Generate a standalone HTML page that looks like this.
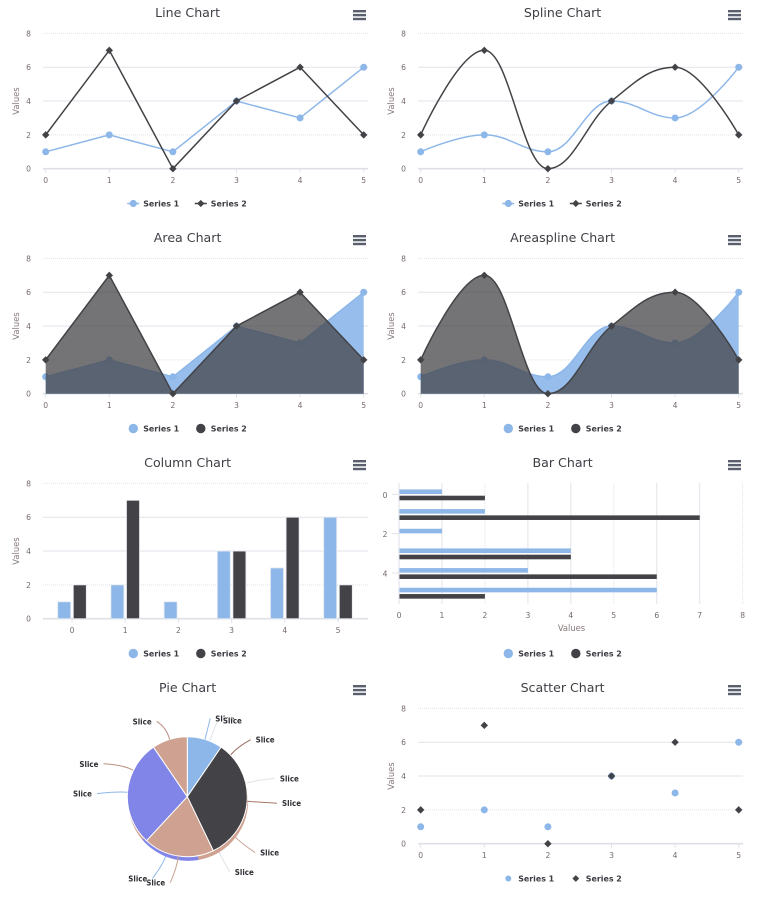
<!DOCTYPE html>
<html lang="en">
<head>
<meta charset="utf-8">
<title>Chart Gallery</title>
<style>
html,body{margin:0;padding:0;background:#fff;overflow:hidden;}
svg{display:block;font-family:"DejaVu Sans","Liberation Sans",sans-serif;filter:blur(0.3px);}
</style>
</head>
<body>
<svg id="stage" width="763" height="913" viewBox="0 0 763 913" xmlns="http://www.w3.org/2000/svg"></svg>
<script>
const categories = [0, 1, 2, 3, 4, 5];
const series1 = [1, 2, 1, 4, 3, 6];
const series2 = [2, 7, 0, 4, 6, 2];
const yTicks = [0, 2, 4, 6, 8];
const barValueTicks = [0, 1, 2, 3, 4, 5, 6, 7, 8];
const barCategoryTicks = [0, 2, 4];
const seriesNames = ['Series 1', 'Series 2'];
const pieValues = [1, 3.5, 2, 3, 1];
const pieGhostValues = [170, 60, 130];
const pieGhostLabelAngles = [22, 46, 77, 130, 150, 200, 296];

const BLUE = '#8db7e9', DARK = '#434347', TAN = '#cea191', PURPLE = '#8185e8';
const GRID = '#e1e3e9', TICK = '#75696c', TITLE = '#403e45';
const stage = document.getElementById('stage');

function mk(parent, tag, props) {
  const el = document.createElementNS('http://www.w3.org/2000/svg', tag);
  for (const k in props) el.setAttribute(k, props[k]);
  parent.appendChild(el);
  return el;
}
function label(parent, str, props) {
  const el = mk(parent, 'text', props);
  el.textContent = str;
  return el;
}

function frameFor(col, row) {
  const ox = col * 375, oy = row * 225;
  return {
    ox, oy,
    gridL: ox + 43, gridR: ox + 368,
    top: oy + 33.4, base: oy + 168.7,
    xL: ox + 45.7, xR: ox + 363.7,
    panelW: 375
  };
}
function yScale(f, v) { return f.base - (v / 8) * (f.base - f.top); }
function xScale(f, v) { return f.xL + (v / 5) * (f.xR - f.xL); }

function chrome(g, f, name) {
  const t = label(g, name, {x: f.ox + 187.6, y: f.oy + 17, 'text-anchor': 'middle', 'font-size': 12.6, fill: TITLE});
  
  
  const menu = mk(g, 'g', {});
  
  
  [0, 1, 2].forEach(function (i) {
    const bar = mk(menu, 'rect', {x: f.ox + 353, y: f.oy + 10 + i * 3.9, width: 13, height: 2.4, fill: '#5a5f6e'});
    
    
  });
}

function yAxis(g, f) {
  yTicks.forEach(function (v) {
    const y = yScale(f, v);
    const line = mk(g, 'line', {x1: f.gridL, x2: f.gridR, y1: y, y2: y, stroke: v === 0 ? '#dde0e6' : GRID, 'stroke-width': v === 0 ? 1.6 : 1, 'stroke-dasharray': (v === 8 || v === 2) ? '1 1' : 'none'});
    
    
    const t = label(g, String(v), {x: f.ox + 28.5, y: y + 3, 'text-anchor': 'middle', 'font-size': 7.6, fill: TICK});
    
    
  });
  const cy = f.oy + 101, tx = f.ox + 19;
  const title = label(g, 'Values', {x: tx, y: cy, 'text-anchor': 'middle', 'font-size': 8.4, fill: '#86797a', transform: 'rotate(-90 ' + tx + ' ' + cy + ')'});
  
  
}

function xAxis(g, f, xOf) {
  categories.forEach(function (c) {
    const x = xOf(c);
    const tick = mk(g, 'line', {x1: x, x2: x, y1: f.base, y2: f.base + 4, stroke: GRID, 'stroke-width': 1});
    
    
    const t = label(g, String(c), {x: x, y: f.base + 14.5, 'text-anchor': 'middle', 'font-size': 7.6, fill: TICK});
    
    
  });
}

function marker(g, kind, x, y, r, color) {
  let el;
  if (kind === 0) {
    el = mk(g, 'circle', {cx: x, cy: y, r: r, fill: color});
  } else {
    el = mk(g, 'path', {d: 'M' + x + ' ' + (y - r) + 'L' + (x + r) + ' ' + y + 'L' + x + ' ' + (y + r) + 'L' + (x - r) + ' ' + y + 'Z', fill: color});
  }
  return el;
}

function legend(g, f, style) {
  const y = f.oy + 203.5;
  const sx = [f.ox + 133.3, f.ox + 200.8];
  const tx = [f.ox + 143.2, f.ox + 210.8];
  const colors = [BLUE, DARK];
  seriesNames.forEach(function (name, i) {
    const item = mk(g, 'g', {});
    
    
    if (style === 'line') {
      const l = mk(item, 'line', {x1: sx[i] - 6, x2: sx[i] + 6, y1: y, y2: y, stroke: colors[i], 'stroke-width': 1.5});
      
      
    }
    let m;
    if (style === 'line') m = marker(item, i, sx[i], y, 3.6, colors[i]);
    else if (style === 'scatter') m = marker(item, i, sx[i], y, i === 0 ? 3 : 3.4, colors[i]);
    else m = marker(item, 0, sx[i], y, 4.7, colors[i]);
    
    
    const t = label(item, name, {x: tx[i], y: y + 3, 'font-size': 8.2, 'font-weight': 'bold', fill: '#3c3b42', 'textLength': 36, 'lengthAdjust': 'spacingAndGlyphs'});
    
    
  });
}

function linearPath(pts) {
  return pts.map(function (p, i) { return (i ? 'L' : 'M') + p[0].toFixed(2) + ' ' + p[1].toFixed(2); }).join('');
}
function splinePath(pts) {
  const s = 1.5, d = s + 1;
  const L = [], R = [];
  pts.forEach(function (p, i) {
    const prev = pts[i - 1], next = pts[i + 1];
    if (!prev || !next) { L[i] = p.slice(); R[i] = p.slice(); return; }
    const x = p[0], y = p[1];
    const lx = (s * x + prev[0]) / d, rx = (s * x + next[0]) / d;
    let ly = (s * y + prev[1]) / d, ry = (s * y + next[1]) / d;
    const c = ((ry - ly) * (rx - x)) / (rx - lx) + y - ry;
    ly += c; ry += c;
    if (ly > prev[1] && ly > y) { ly = Math.max(prev[1], y); ry = 2 * y - ly; }
    else if (ly < prev[1] && ly < y) { ly = Math.min(prev[1], y); ry = 2 * y - ly; }
    if (ry > next[1] && ry > y) { ry = Math.max(next[1], y); ly = 2 * y - ry; }
    else if (ry < next[1] && ry < y) { ry = Math.min(next[1], y); ly = 2 * y - ry; }
    L[i] = [lx, ly]; R[i] = [rx, ry];
  });
  let out = 'M' + pts[0][0].toFixed(2) + ' ' + pts[0][1].toFixed(2);
  for (let i = 1; i < pts.length; i++) {
    out += 'C' + R[i - 1][0].toFixed(2) + ' ' + R[i - 1][1].toFixed(2) + ' ' + L[i][0].toFixed(2) + ' ' + L[i][1].toFixed(2) + ' ' + pts[i][0].toFixed(2) + ' ' + pts[i][1].toFixed(2);
  }
  return out;
}

function cartesian(col, row, name, opts) {
  const f = frameFor(col, row);
  const g = mk(stage, 'g', {});
  
  
  chrome(g, f, name);
  yAxis(g, f);
  xAxis(g, f, function (c) { return xScale(f, c); });
  [series1, series2].forEach(function (vals, si) {
    const color = si === 0 ? BLUE : DARK;
    const pts = vals.map(function (v, i) { return [xScale(f, categories[i]), yScale(f, v)]; });
    const d = opts.smooth ? splinePath(pts) : linearPath(pts);
    if (opts.area) {
      const fillPath = d + 'L' + pts[pts.length - 1][0].toFixed(2) + ' ' + f.base + 'L' + pts[0][0].toFixed(2) + ' ' + f.base + 'Z';
      const a = mk(g, 'path', {d: fillPath, fill: color, 'fill-opacity': si === 0 ? 0.92 : 0.74, stroke: 'none'});
      
      
    }
    if (opts.line) {
      const l = mk(g, 'path', {d: d, fill: 'none', stroke: color, 'stroke-width': 1.5, 'stroke-linejoin': 'round'});
      
      
    }
    pts.forEach(function (p, i) {
      const m = marker(g, si, p[0], p[1], si === 0 ? 3.5 : 3.7, color);
      
      
    });
  });
  legend(g, f, opts.legend);
}

function columnChart(col, row) {
  const f = frameFor(col, row);
  const g = mk(stage, 'g', {});
  
  
  chrome(g, f, 'Column Chart');
  yAxis(g, f);
  const band = (338 - 72) / 5;
  const cx = function (c) { return f.ox + 72 + c * band; };
  xAxis(g, f, cx);
  [series1, series2].forEach(function (vals, si) {
    vals.forEach(function (v, i) {
      const y = yScale(f, v);
      const r = mk(g, 'rect', {x: cx(categories[i]) + (si === 0 ? -14.3 : 1.3), y: y, width: 13, height: Math.max(0, f.base - y), fill: si === 0 ? BLUE : DARK, stroke: '#e6e8ee', 'stroke-width': v === 0 ? 0 : 0.8});
      
      
    });
  });
  legend(g, f, 'circle');
}

function barChart(col, row) {
  const f = frameFor(col, row);
  const g = mk(stage, 'g', {});
  
  
  chrome(g, f, 'Bar Chart');
  const x0 = f.ox + 24, unit = 42.96;
  const xOf = function (v) { return x0 + v * unit; };
  const top = f.oy + 33, bottom = f.oy + 154, bandH = 19.67, firstC = f.oy + 44.8;
  const yOf = function (c) { return firstC + c * bandH; };
  barValueTicks.forEach(function (v) {
    const x = xOf(v);
    const gl = mk(g, 'line', {x1: x, x2: x, y1: top, y2: bottom, stroke: GRID, 'stroke-width': 1, 'stroke-dasharray': (v === 2 || v === 5 || v === 8) ? '1 1' : 'none'});
    
    
    const t = label(g, String(v), {x: x, y: f.oy + 168, 'text-anchor': 'middle', 'font-size': 7.6, fill: TICK});
    
    
  });
  barCategoryTicks.forEach(function (c) {
    const y = yOf(c);
    const tk = mk(g, 'line', {x1: x0 - 7, x2: x0, y1: y - 0.5, y2: y - 0.5, stroke: GRID, 'stroke-width': 1});
    
    
    const t = label(g, String(c), {x: f.ox + 10, y: y + 3, 'text-anchor': 'middle', 'font-size': 7.6, fill: TICK});
    
    
  });
  const vt = label(g, 'Values', {x: f.ox + 196.5, y: f.oy + 181, 'text-anchor': 'middle', 'font-size': 8.4, fill: '#86797a'});
  
  
  [series1, series2].forEach(function (vals, si) {
    vals.forEach(function (v, i) {
      const w = v * unit;
      const r = mk(g, 'rect', {x: x0, y: yOf(categories[i]) + (si === 0 ? -5.4 : 0.9), width: Math.max(0, w), height: 4.6, fill: si === 0 ? BLUE : DARK});
      
      
    });
  });
  const axisLine = mk(g, 'line', {x1: x0, x2: x0, y1: top, y2: bottom, stroke: '#dfe2e7', 'stroke-width': 1});
  
  
  legend(g, f, 'circle');
}

function slicePath(cx, cy, r, a0, a1) {
  const p = function (a) { const t = a * Math.PI / 180; return (cx + r * Math.sin(t)).toFixed(2) + ' ' + (cy - r * Math.cos(t)).toFixed(2); };
  return 'M' + cx + ' ' + cy + 'L' + p(a0) + 'A' + r + ' ' + r + ' 0 ' + ((a1 - a0) > 180 ? 1 : 0) + ' 1 ' + p(a1) + 'Z';
}

function pieChart(col, row) {
  const f = frameFor(col, row);
  const g = mk(stage, 'g', {});
  
  
  chrome(g, f, 'Pie Chart');
  const cx = f.ox + 187.3, cy = f.oy + 121.7, R = 60;
  const colors = [BLUE, DARK, TAN, PURPLE, TAN];
  const ghostColors = [TAN, PURPLE, TAN];

  function place(angle) {
    const t = angle * Math.PI / 180, s = Math.sin(t), c = Math.cos(t);
    let x = cx + 95 * s, y = cy - 82 * c;
    if (s < 0) x -= 8 * Math.abs(c);
    if (c < 0) y += 5 * Math.abs(c);
    else if (s < 0) y += 3;
    else if (s >= 0 && c > 0.3) y += 0;
    return {x: x, y: y, s: s, c: c};
  }
  function connector(angle, color) {
    const p = place(angle);
    const ex = cx + R * p.s, ey = cy - R * p.c;
    const tx = p.x - (p.s >= 0 ? 5 : -5), ty = p.y;
    const mx = cx + (R + 10) * p.s, my = cy - (R + 12) * p.c;
    const c = mk(g, 'path', {d: 'M' + ex.toFixed(1) + ' ' + ey.toFixed(1) + 'Q' + mx.toFixed(1) + ' ' + my.toFixed(1) + ' ' + tx.toFixed(1) + ' ' + ty.toFixed(1), fill: 'none', stroke: color, 'stroke-width': 1});
    
    
  }
  function sliceLabel(angle) {
    const p = place(angle);
    const t = label(g, 'Slice', {x: p.x, y: p.y + 3, 'text-anchor': p.s >= 0 ? 'start' : 'end', 'font-size': 7.8, 'font-weight': 'bold', fill: '#2f2d33', stroke: '#fff', 'stroke-width': 1.2, 'paint-order': 'stroke', 'textLength': 19, 'lengthAdjust': 'spacingAndGlyphs'});
    
    
  }

  const ghostColorsLines = ['#dfe2e7', '#9a6a60', '#dfe2e7', '#c9a297', '#dfe2e7', '#8db7e9', '#b98d80'];
  pieGhostLabelAngles.forEach(function (a, i) { connector(a, ghostColorsLines[i]); });

  let ga = 0;
  const ghostTotal = pieGhostValues.reduce(function (a, b) { return a + b; }, 0);
  pieGhostValues.forEach(function (v, i) {
    const sweep = v / ghostTotal * 360;
    const s = mk(g, 'path', {d: slicePath(cx + 0.8, cy + 4.2, R, ga, ga + sweep), fill: ghostColors[i]});
    
    
    ga += sweep;
  });

  const total = pieValues.reduce(function (a, b) { return a + b; }, 0);
  let a = 0;
  const mids = [];
  pieValues.forEach(function (v, i) {
    const sweep = v / total * 360;
    const s = mk(g, 'path', {d: slicePath(cx, cy, R, a, a + sweep), fill: colors[i], stroke: '#fff', 'stroke-width': 1});
    
    
    mids.push(a + sweep / 2);
    a += sweep;
  });
  const midLineColors = ['#8db7e9', '#a8766a', '#c9a297', '#8db7e9', '#b98d80'];
  mids.forEach(function (m, i) { connector(m, midLineColors[i]); });
  mids.forEach(function (m) { sliceLabel(m); });
  pieGhostLabelAngles.forEach(function (m) { sliceLabel(m); });
}

cartesian(0, 0, 'Line Chart', {line: true, legend: 'line'});
cartesian(1, 0, 'Spline Chart', {line: true, smooth: true, legend: 'line'});
cartesian(0, 1, 'Area Chart', {line: true, area: true, legend: 'circle'});
cartesian(1, 1, 'Areaspline Chart', {line: true, area: true, smooth: true, legend: 'circle'});
columnChart(0, 2);
barChart(1, 2);
pieChart(0, 3);
cartesian(1, 3, 'Scatter Chart', {legend: 'scatter'});
</script>
</body>
</html>
